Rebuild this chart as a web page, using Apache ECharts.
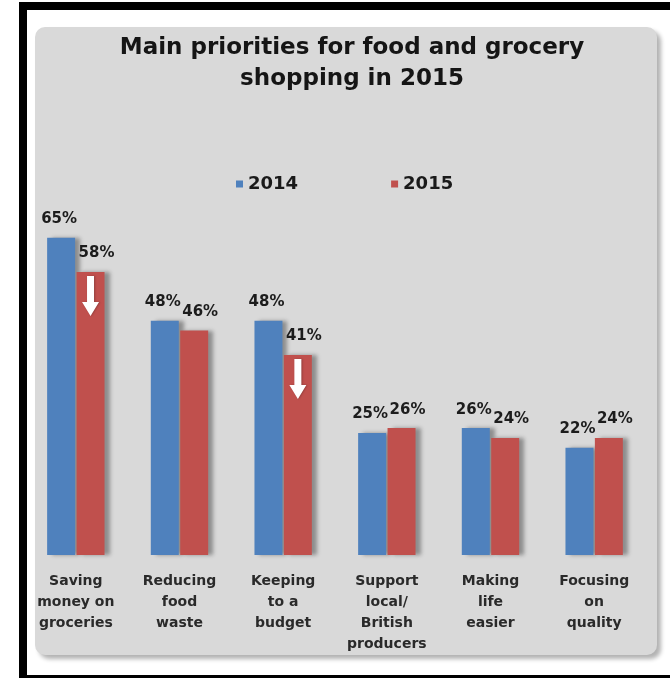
<!DOCTYPE html>
<html>
<head>
<meta charset="utf-8">
<script src="https://cdn.jsdelivr.net/npm/echarts@6/dist/echarts.min.js"></script>
<style>
  html, body { margin: 0; padding: 0; background: #ffffff; width: 670px; height: 678px; overflow: hidden; }
  #frame {
    position: absolute; left: 19px; top: 2px; width: 700px; height: 665px;
    border-left: 8px solid #000; border-top: 8px solid #000; border-bottom: 8px solid #000;
  }
  #panel {
    position: absolute; left: 35px; top: 27px; width: 622px; height: 628px;
    background: #d9d9d9; border-radius: 10px;
    box-shadow: 4px 4px 4px rgba(0,0,0,0.30);
  }
  #chart { position: absolute; left: 0; top: 0; width: 670px; height: 678px; }
</style>
</head>
<body>
<div id="frame"></div>
<div id="panel"></div>
<div id="chart"></div>
<script>
// Survey results: share of shoppers naming each priority
const categories = [
  'Saving\nmoney on\ngroceries',
  'Reducing\nfood\nwaste',
  'Keeping\nto a\nbudget',
  'Support\nlocal/\nBritish\nproducers',
  'Making\nlife\neasier',
  'Focusing\non\nquality'
];
const seriesNames = ['2014', '2015'];
const values2014 = [65, 48, 48, 25, 26, 22];
const values2015 = [58, 46, 41, 26, 24, 24];
// Priorities with a notable drop get a down arrow on the 2015 bar
const dropIndices = [0, 2];

const FONT = 'DejaVu Sans';
const downArrow = 'path://M5,0L12,0L12,26L17,26L8.5,40L0,26L5,26Z';

const barShadow = {
  shadowBlur: 4,
  shadowColor: 'rgba(0,0,0,0.35)',
  shadowOffsetX: 5,
  shadowOffsetY: 0
};

const valueLabel = (offsetX) => ({
  show: true,
  position: 'top',
  distance: 11,
  offset: [offsetX, 0],
  formatter: '{c}%',
  fontFamily: FONT,
  fontWeight: 'bold',
  fontSize: 15,
  color: '#1c1c1c'
});

const chart = echarts.init(document.getElementById('chart'), null, { renderer: 'canvas' });
chart.setOption({
  backgroundColor: 'transparent',
  animation: false,
  title: {
    text: 'Main priorities for food and grocery\nshopping in 2015',
    left: 347,
    top: 28,
    textAlign: 'center',
    textStyle: {
      fontFamily: FONT,
      fontWeight: 'bold',
      fontSize: 23,
      lineHeight: 31,
      color: '#151515'
    }
  },
  legend: {
    data: seriesNames,
    left: 231,
    top: 170,
    icon: 'rect',
    itemWidth: 7,
    itemHeight: 7,
    itemGap: 93,
    textStyle: {
      fontFamily: FONT,
      fontWeight: 'bold',
      fontSize: 18,
      color: '#1a1a1a'
    }
  },
  grid: { left: 24, right: 24, top: 67, bottom: 123, containLabel: false },
  xAxis: {
    type: 'category',
    data: categories,
    axisLine: { show: false },
    axisTick: { show: false },
    axisLabel: {
      interval: 0,
      margin: 16,
      lineHeight: 21,
      fontFamily: FONT,
      fontWeight: 'bold',
      fontSize: 14,
      color: '#2a2a2a'
    }
  },
  yAxis: {
    type: 'value',
    min: 0,
    max: 100,
    show: false,
    splitLine: { show: false }
  },
  series: [
    {
      name: seriesNames[0],
      type: 'bar',
      data: values2014,
      barWidth: 28,
      barGap: '5%',
      itemStyle: Object.assign({ color: '#4f81bd' }, barShadow),
      label: valueLabel(-2)
    },
    {
      name: seriesNames[1],
      type: 'bar',
      data: values2015,
      barWidth: 28,
      itemStyle: Object.assign({ color: '#c0504d' }, barShadow),
      label: valueLabel(6),
      markPoint: {
        symbol: downArrow,
        symbolSize: [17, 40],
        symbolOffset: [0, 24],
        itemStyle: {
          color: '#ffffff',
          shadowBlur: 2,
          shadowColor: 'rgba(0,0,0,0.25)',
          shadowOffsetX: 1
        },
        label: { show: false },
        data: dropIndices.map(i => ({ coord: [categories[i], values2015[i]] }))
      }
    }
  ]
});
</script>
</body>
</html>
